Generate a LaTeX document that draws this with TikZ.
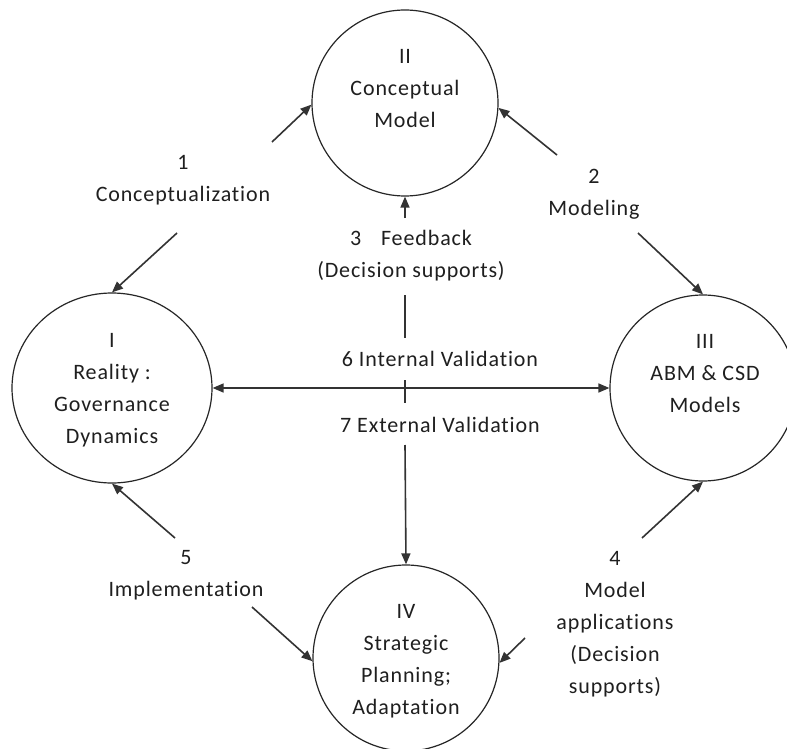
\documentclass[tikz,border=0pt]{standalone}
\usepackage{fontspec}
\setmainfont[LetterSpace=4,Ligatures={NoCommon,NoRare,NoContextual}]{Carlito}
\usetikzlibrary{arrows.meta,shapes.geometric}
\begin{document}
\begin{tikzpicture}[x=1pt,y=-1pt,
  blob/.style={draw=black!85, line width=1.2pt, circle, minimum size=186pt, inner sep=0pt},
  lbl/.style={align=center, font=\fontsize{22}{32}\selectfont, text=black!88, inner sep=0pt},
  conn/.style={draw=black!80, line width=1.6pt},
  tip/.tip={Triangle[length=11pt,width=9pt]},
  arr/.style={conn, -tip},
  darr/.style={conn, tip-tip},
]
\useasboundingbox (0,0) rectangle (787,749);
\fill[white] (0,0) rectangle (787,749);

\node[blob] (II) at (405,103) {};
\node[blob, ellipse, minimum width=200pt, minimum height=190pt] (I) at (112,388) {};
\node[blob] (III) at (703,388) {};
\node[blob] (IV) at (406,658) {};

\node[lbl] (tII) at (405,89) {II\\Conceptual\\Model};
\node[lbl] (tI) at (112,390) {I\\Reality :\\Governance\\Dynamics};
\node[lbl] (tIII) at (705,374) {III\\ABM \& CSD\\Models};
\node[lbl] (tIV) at (406,661) {IV\\Strategic\\Planning;\\Adaptation};

\node[lbl] (l1) at (183,180) {1\\Conceptualization};
\node[lbl] (l2) at (594,194) {2\\Modeling};
\node[lbl] (l3) at (411,256) {3\hspace{0.9em}Feedback\\(Decision supports)};
\node[lbl] (l6) at (440,359) {6 Internal Validation};
\node[lbl] (l7) at (440,425) {7 External Validation};
\node[lbl] (l5) at (186,575) {5\\Implementation};
\node[lbl] (l4) at (615,624) {4\\Model\\applications\\(Decision\\supports)};

\coordinate (a1) at (272,142);
\coordinate (b1) at (177,233);
\coordinate (a2) at (557,155);
\coordinate (b2) at (638,233);
\coordinate (a3) at (405,218);
\coordinate (c3t) at (405,295);
\coordinate (c3b) at (405,338);
\coordinate (c6t) at (405,380);
\coordinate (c6b) at (405,403);
\coordinate (a7) at (405,445);
\coordinate (a5) at (175,538);
\coordinate (b5) at (252,607);
\coordinate (a4) at (642,538);
\coordinate (b4) at (525,638);

\draw[arr] (a1) -- (II.181);
\draw[arr] (b1) -- (I.north);
\draw[arr] (a2) -- (II.357);
\draw[arr] (b2) -- (III.north);
\draw[arr] (a3) -- (II.south);
\draw[conn] (c3t) -- (c3b);
\draw[conn] (c6t) -- (c6b);
\draw[arr] (a7) -- (IV.north);
\draw[darr] (I.east) -- (III.west);
\draw[arr] (a5) -- (I.south);
\draw[arr] (b5) -- (IV.182);
\draw[arr] (a4) -- (III.south);
\draw[arr] (b4) -- (IV.357);
\end{tikzpicture}
\end{document}
